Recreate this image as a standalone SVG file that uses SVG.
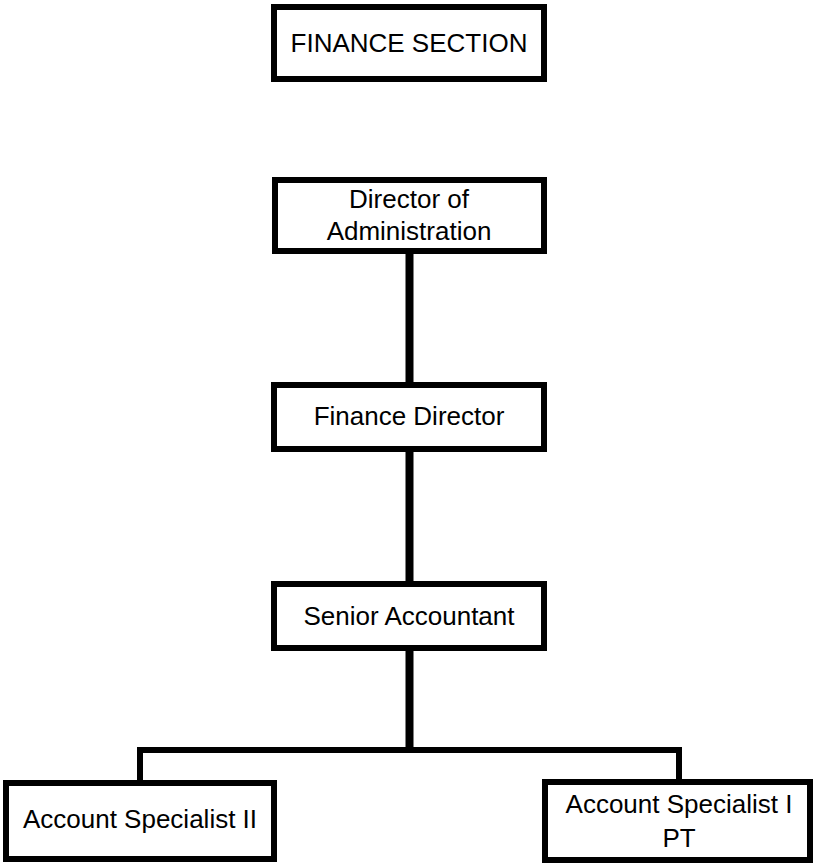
<svg xmlns="http://www.w3.org/2000/svg" width="814" height="863" viewBox="0 0 814 863">
<style>
.box{fill:#fff;stroke:#000;stroke-width:6}
.t{font-family:"Liberation Sans",Arial,sans-serif;font-size:26px;fill:#000;text-anchor:middle}
.c{fill:none;stroke:#000;stroke-width:6}
.trunk{stroke-width:8}
</style>
<rect width="814" height="863" fill="#fff"/>
<g id="connectors">
<line class="c trunk" x1="409.5" y1="254" x2="409.5" y2="382"/>
<line class="c trunk" x1="409.5" y1="452" x2="409.5" y2="581"/>
<line class="c trunk" x1="409.5" y1="651" x2="409.5" y2="750"/>
<polyline class="c" points="140,780 140,750 679,750 679,779"/>
</g>
<g id="finance-section">
<rect class="box" x="274" y="7" width="270" height="72"/>
<text class="t" x="409" y="52">FINANCE SECTION</text>
</g>
<g id="director-admin">
<rect class="box" x="275" y="180" width="269" height="71"/>
<text class="t" x="409" y="208">Director of</text>
<text class="t" x="409" y="240">Administration</text>
</g>
<g id="finance-director">
<rect class="box" x="274" y="385" width="270" height="64"/>
<text class="t" x="409" y="425">Finance Director</text>
</g>
<g id="senior-accountant">
<rect class="box" x="274" y="584" width="270" height="64"/>
<text class="t" x="409" y="625">Senior Accountant</text>
</g>
<g id="account-specialist-ii">
<rect class="box" x="6" y="783" width="268" height="76"/>
<text class="t" x="140" y="828">Account Specialist II</text>
</g>
<g id="account-specialist-i-pt">
<rect class="box" x="545" y="782" width="265" height="78"/>
<text class="t" x="679" y="813">Account Specialist I</text>
<text class="t" x="679" y="847">PT</text>
</g>
</svg>
